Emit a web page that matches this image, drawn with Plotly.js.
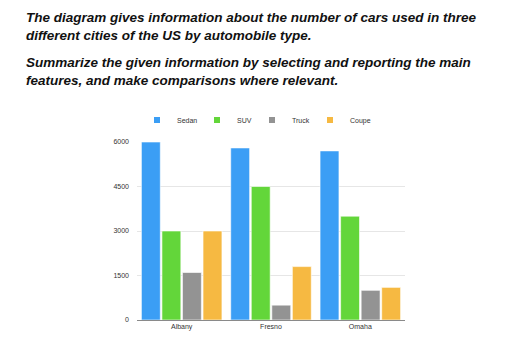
<!DOCTYPE html>
<html>
<head>
<meta charset="utf-8">
<script src="https://cdn.plot.ly/plotly-3.0.1.min.js"></script>
<style>html,body{margin:0;padding:0;background:#fff;}#chart{width:512px;height:359px;}</style>
</head>
<body>
<div id="chart"></div>
<script>
const cities = ["Albany", "Fresno", "Omaha"];
const seriesNames = ["Sedan", "SUV", "Truck", "Coupe"];
const sedan = [6000, 5800, 5700];
const suv = [3000, 4500, 3500];
const truck = [1600, 500, 1000];
const coupe = [3000, 1800, 1100];
const yTicks = [0, 1500, 3000, 4500, 6000];
const colors = ["#3b9ef5", "#63d63a", "#939393", "#f6b942"];

const W = 268, H = 178, L = 137, T = 142;
function px(x) { return (x - L) / W; }
function py(y) { return (T + H - y) / H; }

const values = [sedan, suv, truck, coupe];
const legendIds = ["legend", "legend2", "legend3", "legend4"];
const legendCenters = [157, 217, 272, 330];

const barTraces = values.map((v, i) => ({
  type: "bar",
  name: seriesNames[i],
  x: cities,
  y: v,
  marker: {color: colors[i], line: {color: "#ffffff", width: 0.6}},
  showlegend: false,
  hoverinfo: "skip"
}));
const keyTraces = seriesNames.map((n, i) => ({
  type: "scatter",
  mode: "markers",
  name: n,
  x: [null],
  y: [null],
  marker: {color: colors[i], symbol: "square", size: 6},
  legend: legendIds[i],
  showlegend: true,
  hoverinfo: "skip"
}));

const titleFont = {family: "Liberation Sans, Arial, sans-serif", size: 13.5, color: "#111"};

const layout = {
  width: 512, height: 359,
  margin: {l: L, r: 512 - L - W, t: T, b: 359 - T - H},
  paper_bgcolor: "#fff", plot_bgcolor: "#fff",
  barmode: "group",
  bargap: 0.08,
  bargroupgap: 0.08,
  font: {family: "Liberation Sans, Arial, sans-serif", size: 7, color: "#333"},
  showlegend: true,
  xaxis: {
    showline: true, linecolor: "#8a8a8a", linewidth: 1,
    ticks: "", showgrid: false, zeroline: false,
    tickfont: {size: 7, color: "#333"}
  },
  yaxis: {
    range: [0, 6000],
    tickvals: yTicks,
    ticktext: yTicks.map(String),
    showgrid: true, gridcolor: "#e6e6e6", gridwidth: 1,
    zeroline: false, showline: false, ticks: "",
    ticklabelstandoff: 7,
    tickfont: {size: 7, color: "#333"}
  },
  annotations: [
    {
      xref: "paper", yref: "paper",
      x: px(24), y: py(26), xanchor: "left", yanchor: "middle", align: "left",
      showarrow: false,
      text: "<b><i>The diagram gives information about the number of cars used in three<br>different cities of the US by automobile type.</i></b>",
      font: titleFont
    },
    {
      xref: "paper", yref: "paper",
      x: px(24), y: py(71), xanchor: "left", yanchor: "middle", align: "left",
      showarrow: false,
      text: "<b><i>Summarize the given information by selecting and reporting the main<br>features, and make comparisons where relevant.</i></b>",
      font: titleFont
    }
  ]
};
legendIds.forEach((id, i) => {
  layout[id] = {
    orientation: "h",
    x: px(legendCenters[i] - 20), xanchor: "left",
    y: py(120), yanchor: "middle",
    font: {size: 7, color: "#333"},
    itemwidth: 30,
    bgcolor: "rgba(0,0,0,0)"
  };
});

Plotly.newPlot("chart", barTraces.concat(keyTraces), layout, {displayModeBar: false, staticPlot: true});
</script>
</body>
</html>
